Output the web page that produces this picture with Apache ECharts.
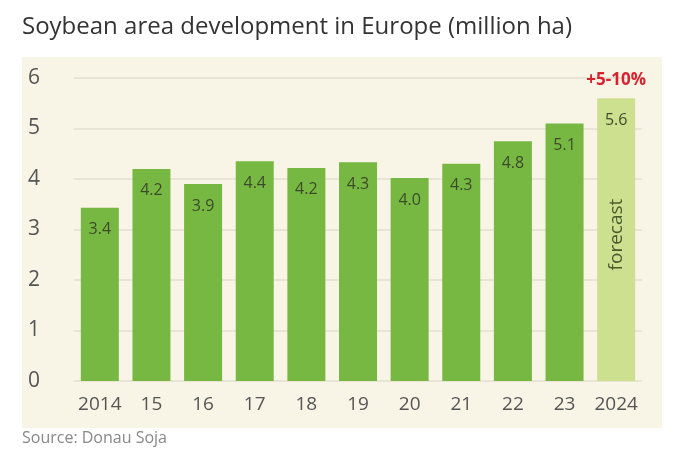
<!DOCTYPE html>
<html>
<head>
<meta charset="utf-8">
<script src="https://cdn.jsdelivr.net/npm/echarts@6/dist/echarts.min.js"></script>
<style>
body{margin:0;background:#fff;}
#chart{width:696px;height:464px;}
</style>
</head>
<body>
<div id="chart"></div>
<script>
var years = ['2014', '15', '16', '17', '18', '19', '20', '21', '22', '23', '2024'];
var values = [3.43, 4.2, 3.9, 4.35, 4.22, 4.33, 4.02, 4.3, 4.75, 5.1, 5.6];
var labels = ['3.4', '4.2', '3.9', '4.4', '4.2', '4.3', '4.0', '4.3', '4.8', '5.1', '5.6'];
var yTicks = [0, 1, 2, 3, 4, 5, 6];

var font = 'Open Sans';
var barData = values.map(function (v, i) {
    var last = i === values.length - 1;
    return {
        value: v,
        itemStyle: { color: last ? '#cde08f' : '#77b843' }
    };
});

var option = {
    animation: false,
    backgroundColor: '#fff',
    graphic: [
        { type: 'rect', left: 22, top: 57, shape: { width: 640, height: 371 }, style: { fill: '#f8f4e6' }, z: -10 },
        { type: 'text', left: 22, top: 15, style: { text: 'Soybean area development in Europe (million ha)', fill: '#333', font: '24px "Open Sans"' } },
        { type: 'text', left: 22, top: 430, style: { text: 'Source: Donau Soja', fill: '#888', font: '16px "Open Sans"' } }
    ],
    grid: { left: 74, right: 54, top: 78, bottom: 83 },
    xAxis: {
        type: 'category',
        data: years,
        axisLine: { show: false },
        axisTick: { show: false },
        axisLabel: { interval: 0, color: '#555', fontSize: 19, fontFamily: font, margin: 14 }
    },
    yAxis: {
        type: 'value',
        min: 0, max: 6, interval: 1,
        axisLabel: {
            color: '#555', fontSize: 21, fontFamily: font, margin: 34,
            formatter: function (v) { return yTicks.indexOf(v) >= 0 ? String(v) : ''; }
        },
        splitLine: { lineStyle: { color: '#e3dfd0', width: 1.5 } }
    },
    series: [
        {
            type: 'bar',
            data: barData,
            barWidth: 38,
            label: {
                show: true,
                position: 'insideTop',
                distance: 14,
                color: '#3d4a2a',
                fontSize: 16,
                fontFamily: font,
                formatter: function (p) { return labels[p.dataIndex]; }
            },
            markPoint: {
                symbol: 'rect',
                symbolSize: 1,
                itemStyle: { color: 'transparent' },
                data: [
                    { coord: ['2024', 5.95], label: { show: true, formatter: '+5-10%', color: '#d8232f', fontWeight: 'bold', fontSize: 17, fontFamily: font } },
                    { coord: ['2024', 2.9], label: { show: true, formatter: 'forecast', rotate: 90, color: '#4a5a2e', fontSize: 19, fontFamily: font } }
                ]
            }
        }
    ]
};

var myChart = echarts.init(document.getElementById('chart'));
myChart.setOption(option);
</script>
</body>
</html>
